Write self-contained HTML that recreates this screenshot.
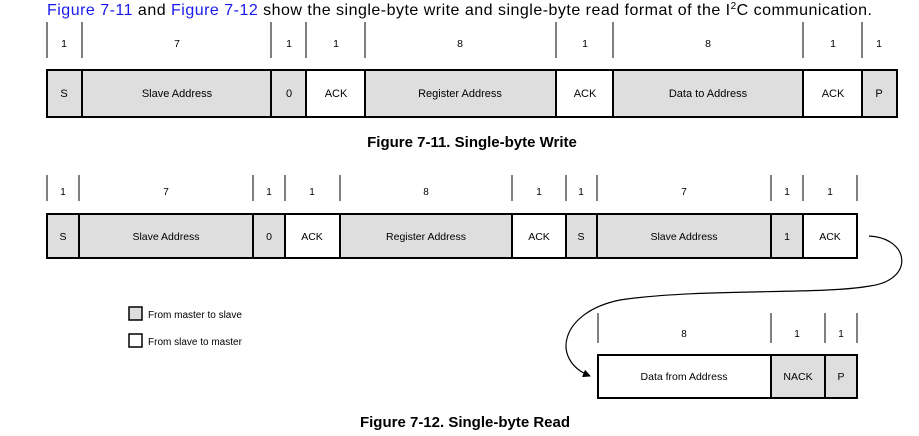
<!DOCTYPE html>
<html><head><meta charset="utf-8"><style>
html,body{margin:0;padding:0;background:#fff;width:919px;height:436px;overflow:hidden}
svg text{font-family:"Liberation Sans",Arial,sans-serif}
</style></head><body>
<svg width="919" height="436" viewBox="0 0 919 436" xmlns="http://www.w3.org/2000/svg">
<defs><marker id="ar" markerWidth="8" markerHeight="8" refX="7" refY="4" orient="auto" markerUnits="userSpaceOnUse"><path d="M0,0 L8,4 L0,8 Z" fill="#000"/></marker></defs>
<text x="47" y="15" font-size="16" textLength="825" lengthAdjust="spacing"><tspan fill="#1a1aee">Figure 7-11</tspan> and <tspan fill="#1a1aee">Figure 7-12</tspan> show the single-byte write and single-byte read format of the I<tspan font-size="10" dy="-6">2</tspan><tspan dy="6">C communication.</tspan></text>

<!-- Write -->
<g stroke="#000" stroke-width="1">
<line x1="47" y1="22" x2="47" y2="58"/><line x1="82" y1="22" x2="82" y2="58"/><line x1="271" y1="22" x2="271" y2="58"/><line x1="306" y1="22" x2="306" y2="58"/><line x1="365" y1="22" x2="365" y2="58"/><line x1="556" y1="22" x2="556" y2="58"/><line x1="613" y1="22" x2="613" y2="58"/><line x1="803" y1="22" x2="803" y2="58"/><line x1="862" y1="22" x2="862" y2="58"/>
</g>
<g font-size="10.5" text-anchor="middle">
<text x="64" y="47">1</text><text x="177" y="47">7</text><text x="289" y="47">1</text><text x="336" y="47">1</text><text x="460" y="47">8</text><text x="585" y="47">1</text><text x="708" y="47">8</text><text x="833" y="47">1</text><text x="879" y="47">1</text>
</g>
<g stroke="#000" stroke-width="2">
<rect x="47" y="70" width="35" height="47" fill="#dedede"/>
<rect x="82" y="70" width="189" height="47" fill="#dedede"/>
<rect x="271" y="70" width="35" height="47" fill="#dedede"/>
<rect x="306" y="70" width="59" height="47" fill="#fff"/>
<rect x="365" y="70" width="191" height="47" fill="#dedede"/>
<rect x="556" y="70" width="57" height="47" fill="#fff"/>
<rect x="613" y="70" width="190" height="47" fill="#dedede"/>
<rect x="803" y="70" width="59" height="47" fill="#fff"/>
<rect x="862" y="70" width="35" height="47" fill="#dedede"/>
</g>
<g font-size="11" text-anchor="middle">
<text x="64" y="97">S</text><text x="177" y="97">Slave Address</text><text x="289" y="97">0</text><text x="336" y="97">ACK</text><text x="460" y="97">Register Address</text><text x="585" y="97">ACK</text><text x="708" y="97">Data to Address</text><text x="833" y="97">ACK</text><text x="879" y="97">P</text>
</g>
<text x="472" y="147" font-size="15" font-weight="bold" text-anchor="middle">Figure 7-11. Single-byte Write</text>

<!-- Read -->
<g stroke="#000" stroke-width="1">
<line x1="47" y1="175" x2="47" y2="201"/><line x1="79" y1="175" x2="79" y2="201"/><line x1="253" y1="175" x2="253" y2="201"/><line x1="285" y1="175" x2="285" y2="201"/><line x1="340" y1="175" x2="340" y2="201"/><line x1="512" y1="175" x2="512" y2="201"/><line x1="566" y1="175" x2="566" y2="201"/><line x1="597" y1="175" x2="597" y2="201"/><line x1="771" y1="175" x2="771" y2="201"/><line x1="803" y1="175" x2="803" y2="201"/><line x1="857" y1="175" x2="857" y2="201"/>
</g>
<g font-size="10" text-anchor="middle">
<text x="63" y="195">1</text><text x="166" y="195">7</text><text x="269" y="195">1</text><text x="312" y="195">1</text><text x="426" y="195">8</text><text x="539" y="195">1</text><text x="581" y="195">1</text><text x="684" y="195">7</text><text x="787" y="195">1</text><text x="830" y="195">1</text>
</g>
<g stroke="#000" stroke-width="2">
<rect x="47" y="214" width="32" height="44" fill="#dedede"/>
<rect x="79" y="214" width="174" height="44" fill="#dedede"/>
<rect x="253" y="214" width="32" height="44" fill="#dedede"/>
<rect x="285" y="214" width="55" height="44" fill="#fff"/>
<rect x="340" y="214" width="172" height="44" fill="#dedede"/>
<rect x="512" y="214" width="54" height="44" fill="#fff"/>
<rect x="566" y="214" width="31" height="44" fill="#dedede"/>
<rect x="597" y="214" width="174" height="44" fill="#dedede"/>
<rect x="771" y="214" width="32" height="44" fill="#dedede"/>
<rect x="803" y="214" width="54" height="44" fill="#fff"/>
</g>
<g font-size="10.5" text-anchor="middle">
<text x="63" y="240">S</text><text x="166" y="240">Slave Address</text><text x="269" y="240">0</text><text x="312" y="240">ACK</text><text x="426" y="240">Register Address</text><text x="539" y="240">ACK</text><text x="581" y="240">S</text><text x="684" y="240">Slave Address</text><text x="787" y="240">1</text><text x="830" y="240">ACK</text>
</g>

<path d="M869,236 C910,238 915,280 870,286 C820,295 700,288 620,300 C560,312 550,360 590,376" fill="none" stroke="#000" stroke-width="1.2" marker-end="url(#ar)"/>

<g stroke="#000" stroke-width="1">
<line x1="598" y1="313" x2="598" y2="343"/><line x1="771" y1="313" x2="771" y2="343"/><line x1="825" y1="313" x2="825" y2="343"/><line x1="857" y1="313" x2="857" y2="343"/>
</g>
<g font-size="10" text-anchor="middle">
<text x="684" y="337">8</text><text x="797" y="337">1</text><text x="841" y="337">1</text>
</g>
<g stroke="#000" stroke-width="2">
<rect x="598" y="355" width="173" height="43" fill="#fff"/>
<rect x="771" y="355" width="54" height="43" fill="#dedede"/>
<rect x="825" y="355" width="32" height="43" fill="#dedede"/>
</g>
<g font-size="10.5" text-anchor="middle">
<text x="684" y="380">Data from Address</text><text x="798" y="380">NACK</text><text x="841" y="380">P</text>
</g>

<rect x="129" y="307" width="13" height="13" fill="#dedede" stroke="#000" stroke-width="1.5"/>
<text x="148" y="318" font-size="10">From master to slave</text>
<rect x="129" y="334" width="13" height="13" fill="#fff" stroke="#000" stroke-width="1.5"/>
<text x="148" y="345" font-size="10">From slave to master</text>

<text x="465" y="427" font-size="15" font-weight="bold" text-anchor="middle">Figure 7-12. Single-byte Read</text>
</svg>
</body></html>
